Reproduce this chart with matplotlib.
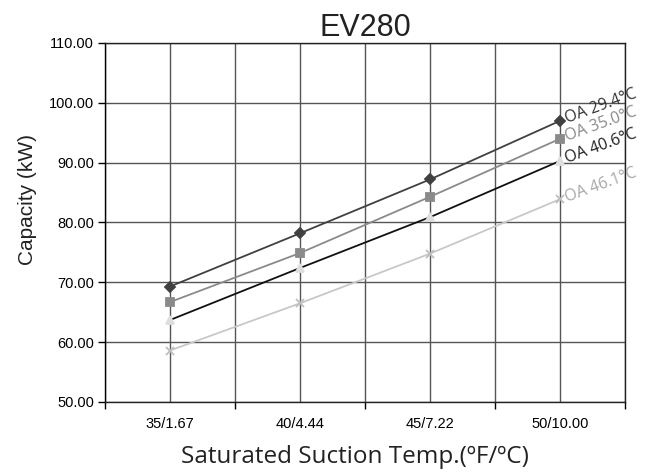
import numpy as np
import matplotlib.pyplot as plt
from matplotlib.ticker import FormatStrFormatter

categories = ["35/1.67", "40/4.44", "45/7.22", "50/10.00"]
series_names = ["OA 29.4°C", "OA 35.0°C", "OA 40.6°C", "OA 46.1°C"]
oa_294 = [69.3, 78.2, 87.2, 97.0]
oa_350 = [66.7, 74.9, 84.3, 94.0]
oa_406 = [63.7, 72.4, 80.9, 90.3]
oa_461 = [58.6, 66.5, 74.8, 83.9]

# line colour, marker, marker colour, label colour
styles = [
    ("#404040", "D", "#404040", "#333333"),
    ("#8a8a8a", "s", "#8a8a8a", "#8a8a8a"),
    ("#111111", "^", "#dedede", "#222222"),
    ("#c8c8c8", "x", "#bdbdbd", "#a8a8a8"),
]

fig = plt.figure(figsize=(6.56, 4.75), dpi=100)
ax = fig.add_axes([0.160, 0.1537, 0.793, 0.7558])

x = np.arange(len(categories))
for vals, name, (lc, mk, mc, tc) in zip([oa_294, oa_350, oa_406, oa_461], series_names, styles):
    ms = 5 if mk == "D" else 6
    ax.plot(x, vals, color=lc, lw=1.3, marker=mk, markersize=ms,
            markerfacecolor=mc, markeredgecolor=mc, markeredgewidth=1.3, zorder=3)
    ax.annotate(name, xy=(x[-1], vals[-1]), xytext=(4, 1), textcoords="offset points",
                rotation=20, rotation_mode="anchor", ha="left", va="center",
                color=tc, fontsize=11.5, family="Open Sans", annotation_clip=False)

ax.set_xlim(-0.5, len(categories) - 0.5)
ax.set_ylim(50, 110)
ax.set_yticks(np.arange(50, 111, 10))
ax.yaxis.set_major_formatter(FormatStrFormatter("%.2f"))
ax.set_xticks(x, labels=categories)
ax.set_xticks(np.arange(-0.5, len(categories)), minor=True)

ax.tick_params(axis="x", which="major", length=0, pad=11, labelsize=10.5)
ax.tick_params(axis="x", which="minor", length=5, direction="out", width=1)
ax.tick_params(axis="y", length=5, direction="out", width=1, labelsize=10.5, pad=3)
for lab in ax.get_xticklabels() + ax.get_yticklabels():
    lab.set_family("Liberation Sans")

ax.grid(True, axis="x", which="both", color="#555555", lw=1)
ax.grid(True, axis="y", which="major", color="#555555", lw=1)
ax.set_axisbelow(True)
for s in ax.spines.values():
    s.set_color("#222222")
    s.set_linewidth(1)
ax.spines["left"].set_color("black")

ax.set_title("EV280", fontsize=22, family="Liberation Sans", pad=3, color="#222222")
ax.set_ylabel("Capacity (kW)", fontsize=15, family="Liberation Sans", color="#222222")
ax.yaxis.set_label_coords(-0.13, 0.565)
ax.set_xlabel("Saturated Suction Temp.(ºF/ºC)", fontsize=17.5, family="Open Sans",
              color="#222222")
ax.xaxis.set_label_coords(0.48, -0.12)

fig.savefig("out.png", dpi=100)
